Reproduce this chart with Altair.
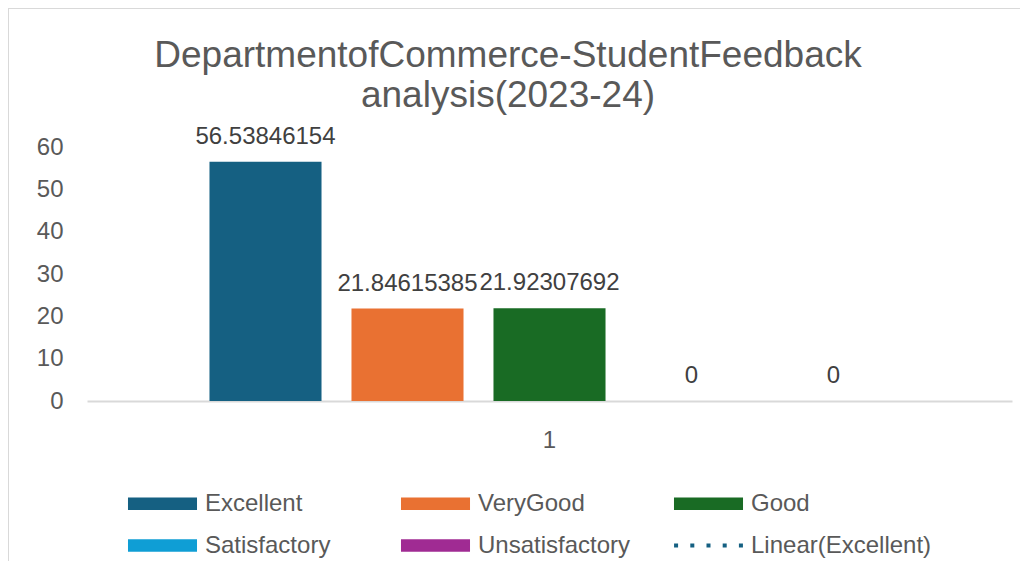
import altair as alt
import pandas as pd

# ---- data ----
series = ["Excellent", "VeryGood", "Good", "Satisfactory", "Unsatisfactory"]
values = [56.53846154, 21.84615385, 21.92307692, 0, 0]
category = ["1", "1", "1", "1", "1"]
legend_names = series + ["Linear(Excellent)"]
colors = ["#156082", "#E97132", "#196B24", "#0F9ED5", "#A02B93", "#156082"]
y_ticks = [0, 10, 20, 30, 40, 50, 60]
title_lines = ["DepartmentofCommerce-StudentFeedback", "analysis(2023-24)"]

df = pd.DataFrame({"cat": category, "series": series, "value": values})
df["label"] = ["%.10g" % v for v in values]
legend_df = pd.DataFrame({"series": legend_names, "cat": ["1"] * 6, "value": [0.0] * 6})
frame_df = pd.DataFrame({"k": [0]})

FONT = "Liberation Sans"
TXT = "#595959"
FS = 24
SYM = 3481  # legend symbol size (sqrt = 59px)
RECT = "M-1.17,-0.21H1.17V0.21H-1.17Z"
DOTS = " ".join("M%.3f,-0.068h0.136v0.136h-0.136Z" % (c - 0.068)
                for c in [-1.099, -0.549, 0.0, 0.549, 1.099])
shapes = [RECT] * 5 + [DOTS]

legend = alt.Legend(
    title=None, orient="none", legendX=41, legendY=327, columns=3, direction="horizontal",
    symbolSize=SYM, symbolStrokeWidth=0, symbolOpacity=1, symbolOffset=5,
    labelFontSize=FS, labelFont=FONT, labelColor=TXT, labelOffset=13,
    columnPadding=14, rowPadding=0, gridAlign="all", padding=0, labelLimit=400,
)

color_scale = alt.Scale(domain=legend_names, range=colors)
shape_scale = alt.Scale(domain=legend_names, range=shapes)

x_enc = alt.X(
    "cat:N", title=None,
    scale=alt.Scale(paddingInner=0, paddingOuter=0.1514),
    axis=alt.Axis(labelAngle=0, labelFontSize=FS, labelColor=TXT, labelFont=FONT,
                  labelPadding=27, ticks=False, tickSize=0, domainColor="#D9D9D9",
                  domainWidth=2, grid=False),
)
xoff = alt.XOffset("series:N", sort=series,
                   scale=alt.Scale(domain=series, paddingInner=0.211, paddingOuter=0.1055))
y_enc = alt.Y(
    "value:Q", title=None, scale=alt.Scale(domain=[0, 60]),
    axis=alt.Axis(values=y_ticks, grid=False, domain=False, ticks=False, tickSize=0,
                  labelFontSize=FS, labelColor=TXT, labelFont=FONT, labelPadding=24),
)

base = alt.Chart(df)

bars = base.mark_bar().encode(
    x=x_enc, xOffset=xoff, y=y_enc,
    color=alt.Color("series:N", scale=color_scale, legend=legend),
)

labels = base.mark_text(dy=-18, baseline="alphabetic", fontSize=FS, color="#404040", font=FONT).encode(
    x=x_enc, xOffset=xoff, y=y_enc, text="label:N",
)

legend_layer = alt.Chart(legend_df).transform_filter("datum.value > 0").mark_point(
    filled=True, opacity=1, size=SYM
).encode(
    x=x_enc, y=y_enc,
    color=alt.Color("series:N", scale=color_scale, legend=legend),
    shape=alt.Shape("series:N", scale=shape_scale, legend=legend),
)

border_v = alt.Chart(frame_df).mark_rule(color="#D9D9D9", strokeWidth=2).encode(
    x=alt.value(-79), y=alt.value(-139), y2=alt.value(500)
)
border_h = alt.Chart(frame_df).mark_rule(color="#D9D9D9", strokeWidth=2).encode(
    y=alt.value(-139), x=alt.value(-79), x2=alt.value(1000)
)

chart = alt.layer(border_v, border_h, bars, labels, legend_layer).properties(
    width=925, height=254,
    autosize=alt.AutoSizeParams(type="none"),
    padding={"left": 79, "top": 139, "right": 8, "bottom": 160},
    title=alt.TitleParams(
        text=title_lines, fontSize=37, font=FONT, color=TXT, fontWeight="normal",
        anchor="middle", frame="group", dx=-41.5, lineHeight=40, baseline="top", offset=-107.5,
    ),
).configure(background="white").configure_view(strokeWidth=0, stroke=None)

chart.save("out.html", embed_options={"renderer": "svg", "actions": False})
